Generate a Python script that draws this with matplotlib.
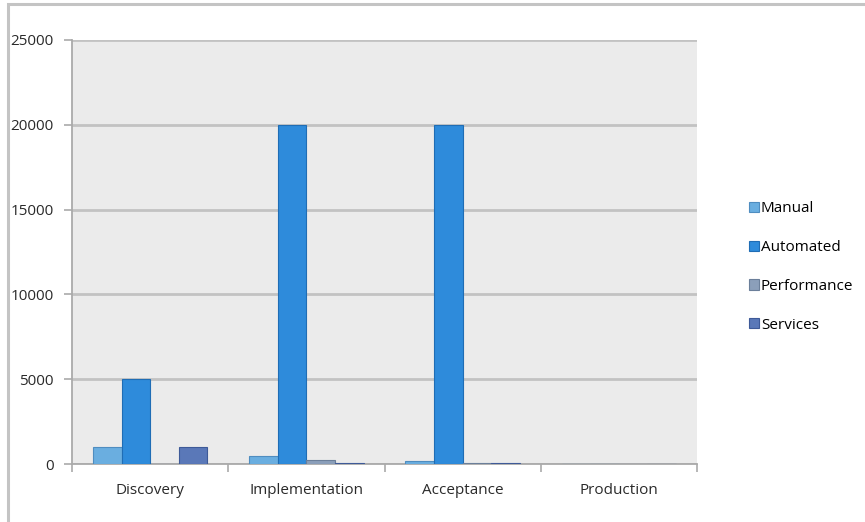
import matplotlib
matplotlib.use("Agg")
import matplotlib.pyplot as plt
import numpy as np
from matplotlib.patches import Rectangle

plt.rcParams["font.family"] = ["Open Sans", "DejaVu Sans"]

categories = ["Discovery", "Implementation", "Acceptance", "Production"]
series = ["Manual", "Automated", "Performance", "Services"]
manual = [1000, 500, 150, 0]
automated = [5000, 20000, 20000, 0]
performance = [0, 250, 50, 0]
services = [1000, 80, 50, 0]
values = [manual, automated, performance, services]

colors = ["#6aaee0", "#2e8bdb", "#8b9fba", "#5a78b8"]
edges = ["#4f8dc0", "#1f6db5", "#6b7f9a", "#3e5a98"]

fig = plt.figure(figsize=(8.65, 5.22), dpi=100)
# outer frame like the spreadsheet chart border
fig.patches.append(Rectangle((8 / 865, -0.1), 1.2, (522 - 4) / 522 + 0.1,
                             transform=fig.transFigure, fill=False,
                             edgecolor="#c4c4c4", linewidth=2.2))

ax = fig.add_axes([72 / 865, 58 / 522, 625 / 865, 424 / 522])
ax.set_facecolor("#ebebeb")

x = np.arange(len(categories))
w = 0.183
for i, (name, vals) in enumerate(zip(series, values)):
    ax.bar(x + (i - 1.5) * w, vals, w, color=colors[i], edgecolor=edges[i],
           linewidth=0.8, label=name, zorder=3)

ax.set_xlim(-0.5, len(categories) - 0.5)
ax.set_ylim(0, 25000)
ax.set_yticks(range(0, 25001, 5000))
ax.yaxis.grid(True, color="#c2c2c2", linewidth=2.0, zorder=1)
ax.set_axisbelow(True)

ax.set_xticks(x)
ax.set_xticklabels(categories, fontsize=11, color="#2a2a2a")
ax.set_xticks(np.arange(-0.5, len(categories)), minor=True)
ax.tick_params(axis="x", which="major", length=0, pad=14)
ax.tick_params(axis="x", which="minor", length=6, color="#aaaaaa", width=1.2)
ax.tick_params(axis="y", length=6, color="#aaaaaa", width=1.2, labelsize=11,
               labelcolor="#2a2a2a", pad=7)

for s in ["top", "right"]:
    ax.spines[s].set_visible(False)
for s in ["left", "bottom"]:
    ax.spines[s].set_color("#aaaaaa")
    ax.spines[s].set_linewidth(1.3)

fig.legend(loc="center left", bbox_to_anchor=(735 / 865, 1 - 267 / 522),
           frameon=False, fontsize=11, handlelength=0.65, handleheight=0.65,
           handletextpad=0.15, labelspacing=1.55)

fig.savefig("out.png", dpi=100)
